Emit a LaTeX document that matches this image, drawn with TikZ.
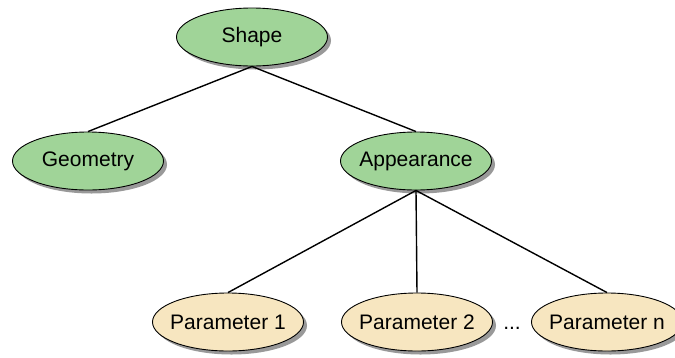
\documentclass[tikz,border=0pt]{standalone}
\usepackage{fontspec}
\setmainfont{Liberation Sans}
\usetikzlibrary{shapes.geometric,shadows}
\definecolor{leafgreen}{RGB}{160,212,152}
\definecolor{paramtan}{RGB}{247,230,192}
\begin{document}
\begin{tikzpicture}[x=1pt,y=-1pt,
  ell/.style={ellipse, draw=black, line width=0.9pt, minimum width=151pt, minimum height=58pt, inner xsep=-5pt, inner ysep=0pt,
    font=\fontsize{21}{25}\selectfont,
    drop shadow={shadow xshift=3.5pt, shadow yshift=-3.5pt, fill=black, opacity=0.4}},
  gnode/.style={ell, fill=leafgreen},
  pnode/.style={ell, fill=paramtan},
  link/.style={line width=1.4pt, draw=black}]
\useasboundingbox (0,0) rectangle (675,357);
\node[gnode] (shape) at (252,37) {Shape};
\node[gnode] (geo) at (88,161) {Geometry};
\node[gnode] (app) at (416,161) {Appearance};
\node[pnode] (p1) at (228,322) {Parameter 1};
\node[pnode] (p2) at (417,322) {Parameter 2};
\node[pnode] (pn) at (607,322) {Parameter n};
\node[font=\fontsize{21}{25}\selectfont, anchor=base, inner sep=0pt] (dots) at ([xshift=95pt]p2.base) {...};
\draw[link] (shape.south) -- (geo.north);
\draw[link] (shape.south) -- (app.north);
\draw[link] (app.south) -- (p1.north);
\draw[link] (app.south) -- (p2.north);
\draw[link] (app.south) -- (pn.north);
\end{tikzpicture}
\end{document}
